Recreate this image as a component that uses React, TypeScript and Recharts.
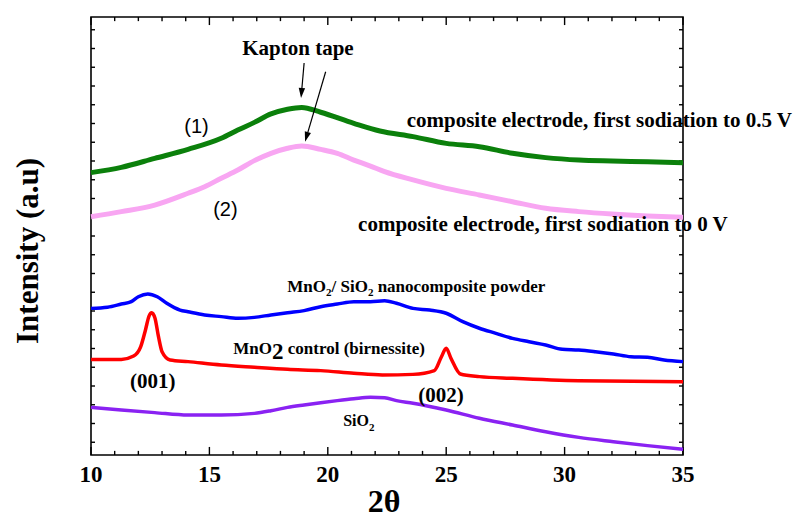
import { LineChart, Line, XAxis, YAxis, ReferenceDot, ReferenceLine, ReferenceArea } from 'recharts';

const xTicks = [10, 11, 12, 13, 14, 15, 16, 17, 18, 19, 20, 21, 22, 23, 24, 25, 26, 27, 28, 29, 30, 31, 32, 33, 34, 35];
const xTickLabels = ['10', '15', '20', '25', '30', '35'];
const yTicks = [1, 2, 3, 4, 5, 6, 7, 8, 9, 10, 11, 12, 13, 14, 15, 16, 17, 18, 19, 20, 21, 22, 23];

// (1) composite electrode, first sodiation to 0.5 V
const sod05Angle = [10, 11.28, 12.69, 14.1, 15.5, 16.2, 16.9, 17.6, 18.3, 18.9, 19.7, 21.1, 22.2, 23.6, 25, 26.4, 27.8, 29.2, 30.6, 32, 33.5, 35];
const sod05Int = [15.38, 15.66, 16.14, 16.62, 17.21, 17.65, 18.06, 18.51, 18.76, 18.86, 18.6, 18.01, 17.6, 17.3, 16.94, 16.76, 16.41, 16.18, 16.05, 16.0, 15.96, 15.91];

// (2) composite electrode, first sodiation to 0 V
const sod0Angle = [10, 11.28, 12.69, 14.1, 14.8, 15.5, 16.2, 16.9, 17.6, 18.3, 18.9, 19.7, 20.4, 21.1, 21.8, 22.4, 23.6, 25, 26.4, 27.8, 29.2, 30.6, 32, 33.5, 35];
const sod0Int = [13.03, 13.3, 13.65, 14.28, 14.63, 15.08, 15.52, 16.02, 16.41, 16.68, 16.8, 16.62, 16.41, 16.05, 15.73, 15.43, 14.99, 14.54, 14.19, 13.83, 13.48, 13.3, 13.17, 13.07, 13.0];

// MnO2/SiO2 nanocomposite powder
const nanoAngle = [10, 10.7, 11.28, 11.7, 12.0, 12.4, 12.8, 13.2, 13.76, 14.1, 14.8, 15.5, 16.2, 16.9, 17.6, 18.3, 19, 19.7, 20.4, 21.1, 21.8, 22.4, 22.9, 23.6, 24.3, 25, 25.7, 26.4, 27.1, 27.8, 28.5, 29.2, 29.9, 30.6, 31.3, 32.06, 32.8, 33.5, 34.2, 35];
const nanoInt = [8.14, 8.2, 8.37, 8.5, 8.76, 8.91, 8.76, 8.41, 8.05, 7.96, 7.79, 7.7, 7.61, 7.66, 7.79, 7.91, 8.02, 8.23, 8.37, 8.5, 8.5, 8.55, 8.41, 8.14, 8.05, 7.88, 7.43, 7.08, 6.81, 6.54, 6.36, 6.19, 5.96, 5.92, 5.83, 5.71, 5.56, 5.53, 5.39, 5.3];

// MnO2 control (birnessite)
const birnAngle = [10, 11.28, 11.8, 12.1, 12.3, 12.45, 12.56, 12.7, 12.85, 13.0, 13.34, 14.1, 15.5, 16.9, 18.3, 19.7, 21.1, 22.3, 23.6, 24.5, 24.8, 25.0, 25.2, 25.6, 26.4, 27.8, 30.6, 35];
const birnInt = [5.42, 5.42, 5.6, 6.1, 6.99, 7.73, 7.91, 7.63, 6.63, 5.83, 5.39, 5.3, 5.12, 5.0, 4.89, 4.82, 4.68, 4.59, 4.62, 4.82, 5.56, 6.01, 5.48, 4.64, 4.5, 4.41, 4.28, 4.23];

// SiO2
const silicaAngle = [10, 11.28, 12.69, 14.1, 15.5, 16.9, 17.6, 18.3, 19, 19.7, 20.4, 21.1, 21.8, 22.4, 22.9, 23.6, 25, 26.4, 27.8, 29.2, 30.6, 32.06, 33.5, 35];
const silicaInt = [2.86, 2.72, 2.58, 2.45, 2.45, 2.54, 2.68, 2.86, 2.99, 3.11, 3.22, 3.32, 3.4, 3.37, 3.22, 3.08, 2.72, 2.28, 1.92, 1.56, 1.26, 1.03, 0.82, 0.62];

const X_DOMAIN = [10, 35];
const Y_DOMAIN = [0.32, 23.68];
// tick lengths in axis units (about 8px / 4px on the frame)
const MAJOR_LEN = 0.43;
const MINOR_LEN = 0.22;
const Y_TICK_LEN = 0.17;

const zip = (a: number[], b: number[]) => a.map((x, i) => ({ x, y: b[i] }));

const SERIF = '"Liberation Serif", "Times New Roman", serif';
const SANS = '"Liberation Sans", Arial, sans-serif';

const tickSeg = (key: string, ax: number, ay: number, bx: number, by: number) => (
  <ReferenceLine key={key} segment={[{ x: ax, y: ay }, { x: bx, y: by }]} stroke="#000" strokeWidth={1.4} ifOverflow="visible" />
);

const arrowShape = (p: any) => {
  const { x1, y1, x2, y2 } = p;
  const a = Math.atan2(y2 - y1, x2 - x1);
  const bx = x2 - 10 * Math.cos(a);
  const by = y2 - 10 * Math.sin(a);
  const ox = -Math.sin(a) * 3.2;
  const oy = Math.cos(a) * 3.2;
  return (
    <g>
      <line x1={x1} y1={y1} x2={bx} y2={by} stroke="#000" strokeWidth={1.2} />
      <polygon points={`${x2},${y2} ${bx + ox},${by + oy} ${bx - ox},${by - oy}`} fill="#000" />
    </g>
  );
};

const note = (key: string, x: number, y: number, body: any, font = SERIF, size = 21, weight = 'bold', anchor = 'start', dy = 0) => (
  <ReferenceDot
    key={key}
    x={x}
    y={y}
    r={0}
    ifOverflow="visible"
    shape={(p: any) => (
      <text x={p.cx} y={p.cy} dy={dy} fontFamily={font} fontSize={size} fontWeight={weight} textAnchor={anchor} fill="#000" style={{ whiteSpace: 'pre' }}>
        {body}
      </text>
    )}
  />
);

export default function App() {
  const [x0, x1] = X_DOMAIN;
  const [y0, y1] = Y_DOMAIN;
  return (
    <div style={{ position: 'absolute', left: 0, top: 0, width: 800, height: 521, background: '#fff' }}>
      <LineChart width={800} height={521} margin={{ top: 17, right: 117, bottom: 66, left: 91 }}>
        <XAxis type="number" dataKey="x" domain={X_DOMAIN} ticks={xTicks} hide />
        <YAxis type="number" domain={Y_DOMAIN} ticks={yTicks} hide />

        <ReferenceArea x1={x0} x2={x1} y1={y0} y2={y1} fill="none" stroke="#000" strokeWidth={1.6} ifOverflow="visible" />

        {xTicks.map((v) => {
          const len = v % 5 === 0 ? MAJOR_LEN : MINOR_LEN;
          return [tickSeg(`b${v}`, v, y0, v, y0 + len), tickSeg(`t${v}`, v, y1, v, y1 - len)];
        })}
        {yTicks.map((v) => [tickSeg(`l${v}`, x0, v, x0 + Y_TICK_LEN, v), tickSeg(`r${v}`, x1 - Y_TICK_LEN, v, x1, v)])}
        {xTickLabels.map((t) => note(`xl${t}`, Number(t), y0, t, SERIF, 23, 'bold', 'middle', 27))}

        <Line data={zip(silicaAngle, silicaInt)} dataKey="y" type="monotone" stroke="#8a22f2" strokeWidth={3.5} dot={false} isAnimationActive={false} />
        <Line data={zip(birnAngle, birnInt)} dataKey="y" type="monotone" stroke="#ff0000" strokeWidth={3.5} dot={false} isAnimationActive={false} />
        <Line data={zip(nanoAngle, nanoInt)} dataKey="y" type="monotone" stroke="#0000ff" strokeWidth={3.5} dot={false} isAnimationActive={false} />
        <Line data={zip(sod0Angle, sod0Int)} dataKey="y" type="monotone" stroke="#f8a6f2" strokeWidth={5} dot={false} isAnimationActive={false} />
        <Line data={zip(sod05Angle, sod05Int)} dataKey="y" type="monotone" stroke="#0b800b" strokeWidth={5} dot={false} isAnimationActive={false} />

        <ReferenceLine segment={[{ x: 19.0, y: 21.23 }, { x: 18.87, y: 19.36 }]} shape={arrowShape} />
        <ReferenceLine segment={[{ x: 19.91, y: 20.76 }, { x: 19.04, y: 17.03 }]} shape={arrowShape} />

        {note('kapton', 18.74, 21.65, 'Kapton tape', SERIF, 21, 'bold', 'middle')}
        {note('n1', 13.94, 17.51, '(1)', SANS, 20, 'normal')}
        {note('n2', 15.16, 13.07, '(2)', SANS, 20, 'normal')}
        {note('l05', 23.33, 17.81, 'composite electrode, first sodiation to 0.5 V')}
        {note('l0', 21.28, 12.29, 'composite electrode, first sodiation to 0 V')}
        {note(
          'nano',
          18.29,
          9.03,
          <>
            MnO<tspan fontSize={11} dy={4}>2</tspan>
            <tspan dy={-4}>/ SiO</tspan>
            <tspan fontSize={11} dy={4}>2</tspan>
            <tspan dy={-4}> nanocomposite powder</tspan>
          </>,
          SERIF,
          17
        )}
        {note(
          'birn',
          16.01,
          5.71,
          <>
            MnO<tspan fontSize={23} dy={5}>2</tspan>
            <tspan dy={-5}> control (birnessite)</tspan>
          </>,
          SERIF,
          17
        )}
        {note('p001', 11.65, 3.88, '(001)', SERIF, 21)}
        {note('p002', 23.82, 3.16, '(002)', SERIF, 21)}
        {note(
          'sio2',
          20.65,
          1.88,
          <>
            SiO<tspan fontSize={11} dy={5}>2</tspan>
          </>,
          SERIF,
          16
        )}

        <text x={384} y={512} textAnchor="middle" fontFamily={SERIF} fontWeight="bold" fontSize={32} fill="#000">
          2θ
        </text>
        <text
          x={38}
          y={251}
          transform="rotate(-90, 38, 251)"
          textAnchor="middle"
          fontFamily={SERIF}
          fontWeight="bold"
          fontSize={31}
          fill="#000"
        >
          Intensity (a.u)
        </text>
      </LineChart>
    </div>
  );
}
